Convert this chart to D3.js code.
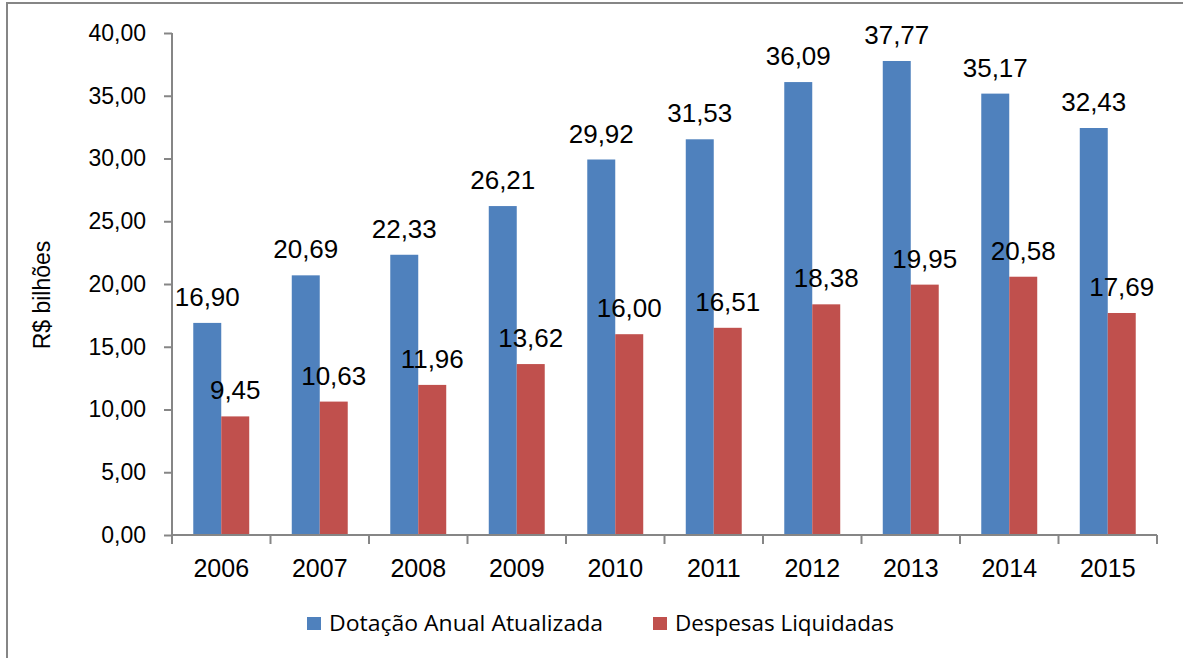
<!DOCTYPE html>
<html>
<head>
<meta charset="utf-8">
<script src="https://cdn.jsdelivr.net/npm/d3@7"></script>
<style>
body { margin:0; background:#fff; }
svg { display:block; }
.axis path, .axis line { stroke:#868686; stroke-width:2; }
</style>
</head>
<body>
<script>
// data
var years = ["2006","2007","2008","2009","2010","2011","2012","2013","2014","2015"];
var seriesNames = ["Dotação Anual Atualizada","Despesas Liquidadas"];
var dotacao = [16.90,20.69,22.33,26.21,29.92,31.53,36.09,37.77,35.17,32.43];
var despesas = [9.45,10.63,11.96,13.62,16.00,16.51,18.38,19.95,20.58,17.69];
var yTicks = [0,5,10,15,20,25,30,35,40];
var colors = ["#4F81BD","#C0504D"];

var screen = {width:1183,height:658};
var margins = {left:172,top:33,right:26,bottom:123};
var graph = {
    width:screen.width-margins.left-margins.right,
    height:screen.height-margins.top-margins.bottom
};

var fmt = function(v){ return d3.format(".2f")(v).replace(".",","); };

var rows = years.map(function(y,i){
    return {year:y, values:[dotacao[i],despesas[i]]};
});

var svg = d3.select("body").append("svg")
    .attr("width",screen.width)
    .attr("height",screen.height);

// outer frame of the chart
svg.append("rect")
    .attr("x",7).attr("y",3)
    .attr("width",screen.width+10).attr("height",screen.height+10)
    .attr("fill","none").attr("stroke","#868686").attr("stroke-width",2);

var xScale = d3.scaleBand().domain(years).range([0,graph.width]).padding(0);
var xSub = d3.scaleBand().domain([0,1]).range([0,xScale.bandwidth()])
    .paddingInner(0).paddingOuter(0.76);
var yScale = d3.scaleLinear().domain([0,40]).range([graph.height,0]);

var plot = svg.append("g")
    .attr("transform","translate("+margins.left+","+margins.top+")");

var groups = plot.selectAll(".year").data(rows).enter().append("g")
    .attr("transform",function(d){ return "translate("+xScale(d.year)+",0)"; });

groups.selectAll("rect").data(function(d){ return d.values; }).enter().append("rect")
    .attr("x",function(d,i){ return xSub(i); })
    .attr("y",function(d){ return yScale(d); })
    .attr("width",xSub.bandwidth())
    .attr("height",function(d){ return graph.height-yScale(d); })
    .attr("fill",function(d,i){ return colors[i]; });

groups.selectAll("text").data(function(d){ return d.values; }).enter().append("text")
    .attr("x",function(d,i){ return xSub(i)+xSub.bandwidth()/2; })
    .attr("y",function(d){ return yScale(d)-17; })
    .attr("text-anchor","middle")
    .style("font-family","'Liberation Sans', Arial, sans-serif")
    .style("font-size","26px")
    .text(function(d){ return fmt(d); });

// axes
var yAxis = d3.axisLeft(yScale).tickValues(yTicks).tickSize(8).tickPadding(18).tickFormat(fmt);
var xAxis = d3.axisBottom(xScale).tickSize(0).tickPadding(24);

var gy = plot.append("g").attr("class","axis").call(yAxis);
gy.select(".domain").attr("d","M0,"+graph.height+"V0");
gy.selectAll("text")
    .style("font-family","'Liberation Sans', Arial, sans-serif")
    .style("font-size","23px").attr("fill","#000");

var gx = plot.append("g").attr("class","axis")
    .attr("transform","translate(0,"+graph.height+")")
    .call(xAxis);
gx.select(".domain").attr("d","M0,0H"+graph.width);
gx.selectAll("text")
    .style("font-family","'Liberation Sans', Arial, sans-serif")
    .style("font-size","25px").attr("fill","#000");

// tick marks at category boundaries
var bounds = years.map(function(y){ return xScale(y); }).concat([graph.width]);
gx.selectAll(".bound").data(bounds).enter().append("line")
    .attr("x1",function(d){ return d; }).attr("x2",function(d){ return d; })
    .attr("y1",0).attr("y2",9);

// y title
svg.append("text")
    .attr("transform","translate(50,295) rotate(-90)")
    .attr("text-anchor","middle")
    .style("font-family","'Liberation Sans', Arial, sans-serif")
    .style("font-size","23px")
    .text("R$ bilhões");

// legend
var legendX = [307,653];
var legendLen = [274,219];
var legend = svg.selectAll(".legend").data(seriesNames).enter().append("g")
    .attr("transform",function(d,i){ return "translate("+legendX[i]+",617)"; });
legend.append("rect")
    .attr("width",14).attr("height",13)
    .attr("fill",function(d,i){ return colors[i]; });
legend.append("text")
    .attr("x",22).attr("y",14)
    .attr("textLength",function(d,i){ return legendLen[i]; })
    .attr("lengthAdjust","spacingAndGlyphs")
    .style("font-family","'Open Sans', sans-serif")
    .style("font-size","21px")
    .text(function(d){ return d; });
</script>
</body>
</html>
